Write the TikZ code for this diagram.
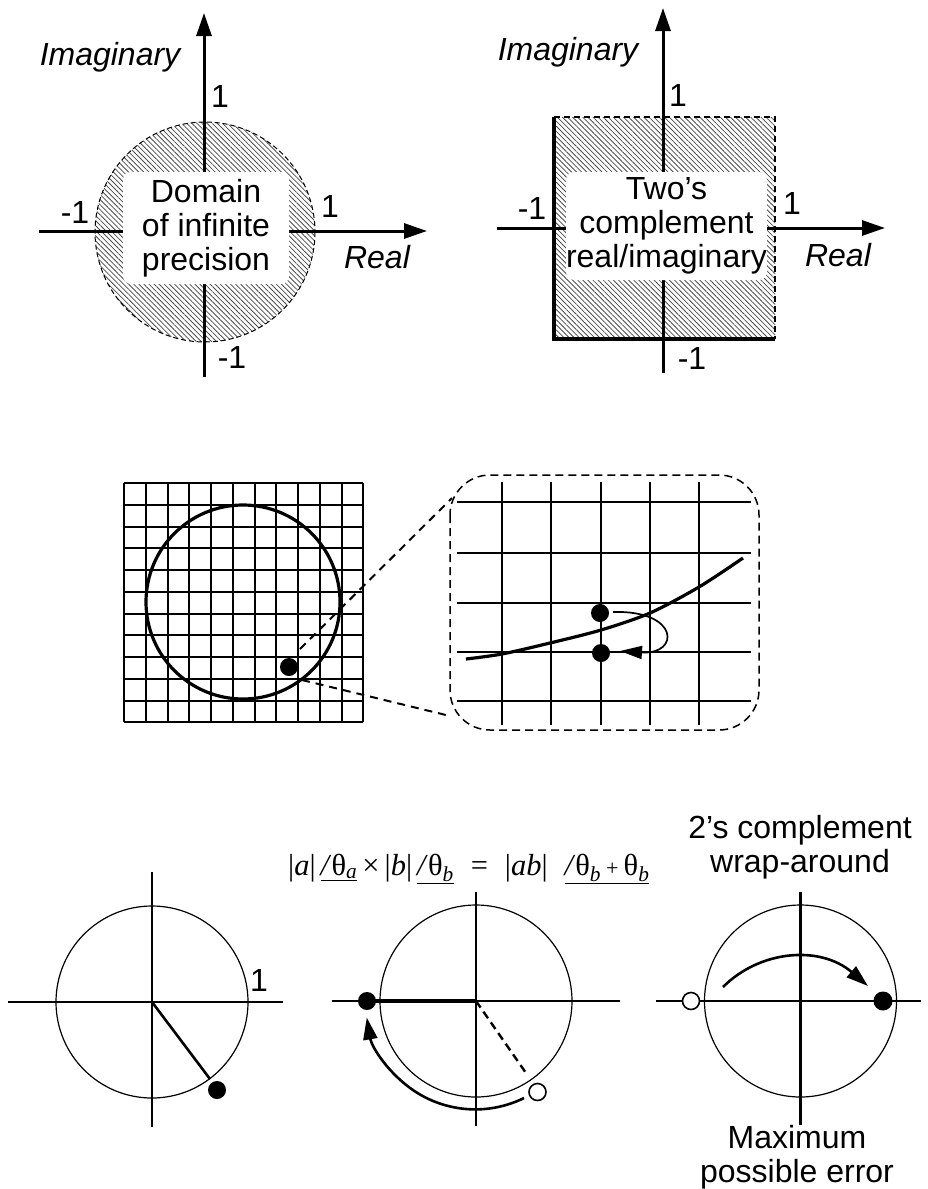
\documentclass[tikz,border=0pt]{standalone}
\usepackage{fontspec}
\setmainfont{Liberation Sans}
\newfontfamily\serifont{Liberation Serif}
\usetikzlibrary{arrows.meta,patterns.meta}
\newcommand\myang[1]{\underline{\textit{/}θ\textsubscript{\textit{#1}}}}
\begin{document}
\begin{tikzpicture}[x=1pt,y=-1pt,
  every node/.style={inner sep=0pt, font=\fontsize{32}{34}\selectfont},
  axis/.style={line width=3pt},
  tipbig/.style={-{Triangle[length=23pt,width=15pt]}},
  tipsm/.style={-{Triangle[length=22pt,width=14pt]}},
  hatch/.style={pattern={Lines[angle=-45,distance=3.6pt,line width=0.8pt]}, pattern color=black!70},
  whitebox/.style={fill=white, rounded corners=8pt, align=center},
  gridl/.style={line width=2pt},
  dotf/.style={circle, fill=black, minimum size=18pt},
  doto/.style={circle, draw=black, line width=1.6pt, fill=white, minimum size=17pt},
  thincirc/.style={line width=1.2pt},
  baxis/.style={line width=2.4pt},
  zoomdash/.style={line width=2pt, dash pattern=on 8pt off 6pt},
  ital/.style={font=\fontsize{32}{34}\selectfont\itshape}
]
\useasboundingbox (0,0) rectangle (928,1189);

% ---------- top left ----------
\coordinate (C1) at (205,232);
\fill[hatch] (C1) circle[radius=110];
\draw[line width=1pt, dash pattern=on 5pt off 3pt] (C1) circle[radius=110];
\coordinate (A1l) at (39,231);
\coordinate (A1r) at (427,231);
\coordinate (A1b) at (204,377);
\coordinate (A1t) at (204,13);
\draw[axis,tipbig] (A1l) -- (A1r);
\draw[axis,tipbig] (A1b) -- (A1t);
\node[whitebox, minimum width=166pt, minimum height=112pt] (dom) at (206,228) {Domain\\of infinite\\precision};
\node (t1a) at (220,96) {1};
\node (t1b) at (75,212) {-1};
\node (t1c) at (330,206) {1};
\node (t1d) at (232,357) {-1};
\node[ital] (t1e) at (110,57) {Imaginary};
\node[ital] (t1f) at (377,257) {Real};

% ---------- top right ----------
\fill[hatch] (554,117) rectangle (775,339);
\coordinate (S1) at (554,117);
\coordinate (S2) at (775,117);
\coordinate (S3) at (775,339);
\coordinate (S4) at (554,339);
\draw[line width=1.8pt, dash pattern=on 6pt off 4pt] (S1) -- (S2) -- (S3);
\coordinate (A2l) at (497,228);
\coordinate (A2r) at (885,228);
\coordinate (A2b) at (663,373);
\coordinate (A2t) at (663,8);
\draw[axis,tipbig] (A2l) -- (A2r);
\draw[axis,tipbig] (A2b) -- (A2t);
\draw[line width=3.5pt] (S1) -- (S4) -- (S3);
\node[whitebox, minimum width=193pt, minimum height=108pt] (two) at (666.5,226) {Two’s\\complement\\real/imaginary};
\node (t2a) at (678,95) {1};
\node (t2b) at (532,208) {-1};
\node (t2c) at (792,203) {1};
\node (t2d) at (692,358) {-1};
\node[ital] (t2e) at (568,52) {Imaginary};
\node[ital] (t2f) at (838,255) {Real};

% ---------- middle grid ----------
\foreach \i in {0,...,11} {
  \draw[gridl] (124+\i*21.75,483) -- (124+\i*21.75,722.25);
  \draw[gridl] (124,483+\i*21.75) -- (363.25,483+\i*21.75);
}
\coordinate (C2) at (243,602);
\draw[line width=3.2pt] (C2) circle[radius=97];
\node[dotf] (pt) at (289,667) {};
\coordinate (ds1) at (300,649);
\coordinate (ds2) at (302,680);
\coordinate (zt) at (452,498);
\coordinate (zb) at (450,716);
\draw[zoomdash] (ds1) -- (zt);
\draw[zoomdash] (ds2) -- (zb);

% zoom box
\foreach \x in {502,551,601,650,699} \draw[gridl] (\x,482) -- (\x,725);
\foreach \y in {502,553,603,652,701} \draw[gridl] (457,\y) -- (751,\y);
\draw[line width=1.5pt, dash pattern=on 8pt off 5pt, rounded corners=40pt] (450,475) rectangle (759,730);
\draw[line width=3.2pt] plot[smooth] coordinates {(466,659) (502,654) (550,643) (601,630) (650,613) (699,587) (743,558)};
\node[dotf] (pa) at (600,613) {};
\node[dotf] (pb) at (601,653) {};
\draw[line width=1.7pt, -{Triangle[length=22pt,width=13pt]}] (613,612) .. controls (680,610) and (680,655) .. (620,651);

% ---------- formula ----------
\node[anchor=base west, font=\serifont\fontsize{30.5}{32}\selectfont] (form) at (288,875)
 {|\textit{a}|\,\myang{a}\,×\,|\textit{b}|\,\myang{b}\;\;=\;\;|\textit{ab}|\;\;\underline{\textit{/}θ\textsubscript{\textit{b}}\,{\fontsize{22}{22}\selectfont+}\,θ\textsubscript{\textit{b}}}};

% ---------- bottom left ----------
\coordinate (B1) at (152,1002);
\draw[thincirc] (B1) circle[radius=96];
\coordinate (B1l) at (8,1002);
\coordinate (B1r) at (283,1002);
\coordinate (B1t) at (152,872);
\coordinate (B1b) at (152,1127);
\draw[baxis] (B1l) -- (B1r);
\draw[baxis] (B1t) -- (B1b);
\coordinate (B1v) at (210,1079);
\draw[line width=2.6pt] (B1) -- (B1v);
\node[dotf] (d1) at (217,1090) {};
\node (one) at (259,980) {1};

% ---------- bottom middle ----------
\coordinate (B2) at (476,1001);
\draw[thincirc] (B2) circle[radius=96];
\coordinate (B2l) at (332,1001);
\coordinate (B2r) at (620,1001);
\coordinate (B2t) at (476,892);
\coordinate (B2b) at (476,1126);
\draw[baxis] (B2l) -- (B2r);
\draw[baxis] (B2t) -- (B2b);
\coordinate (d2c) at (367,1001);
\draw[line width=3.6pt] (d2c) -- (B2);
\node[dotf] (d2) at (d2c) {};
\coordinate (B2d) at (526,1073);
\draw[line width=2.4pt, dash pattern=on 8pt off 5pt] (B2) -- (B2d);
\node[doto] (o2) at (537.5,1092) {};
\draw[line width=2.6pt, tipsm] (524,1098) arc[start angle=63.7, end angle=170.5, radius=110];

% ---------- bottom right ----------
\coordinate (B3) at (800.5,1001);
\draw[thincirc] (B3) circle[radius=96];
\coordinate (B3l) at (656,1001);
\coordinate (B3r) at (921,1001);
\coordinate (B3t) at (800.5,892);
\coordinate (B3b) at (800.5,1125);
\draw[baxis] (B3l) -- (B3r);
\draw[baxis] (B3t) -- (B3b);
\node[doto] (o3) at (691,1001) {};
\node[dotf, minimum size=19pt] (d3) at (883,1001) {};
\coordinate (w1) at (723,987);
\coordinate (w2) at (868,986);
\draw[line width=2.6pt, tipsm] (w1) .. controls (760,950) and (820,945) .. (w2);
\node[align=center] (wrap) at (800,847) {2’s complement\\wrap-around};
\node[align=center] (maxe) at (797,1157) {Maximum\\possible error};
\end{tikzpicture}
\end{document}
